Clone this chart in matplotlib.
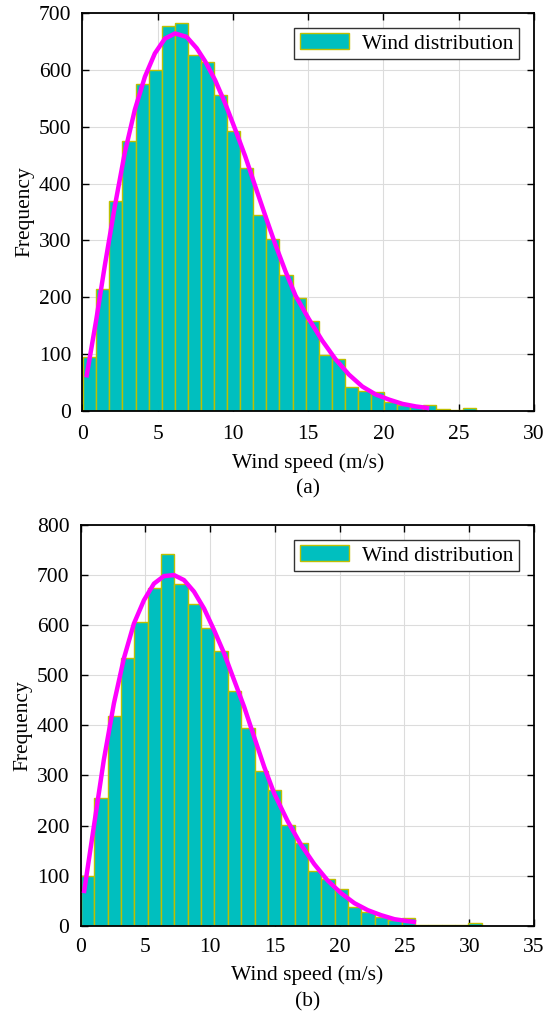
import numpy as np
import matplotlib
matplotlib.use("Agg")
import matplotlib.pyplot as plt

plt.rcParams['font.family'] = ['Liberation Serif', 'DejaVu Serif']

# ---------------- data: panel (a) ----------------
a_bin_start = 0.06
a_bin_width = 0.869
a_counts = [95, 215, 369, 475, 575, 600, 678, 682, 626, 614,
            555, 492, 427, 344, 303, 240, 199, 158, 98, 91,
            42, 36, 33, 16, 11, 8, 10, 3, 1, 5]
a_fit_x = [0.27, 0.93, 1.49, 2.16, 2.82, 3.49, 4.16, 4.82, 5.49, 6.16,
           6.93, 7.6, 8.16, 8.82, 9.49, 10.16, 10.82, 11.49, 12.16, 12.82,
           13.49, 14.16, 15.04, 15.93, 16.82, 17.71, 18.6, 19.49, 20.38, 21.27,
           22.16, 23.04]
a_fit_y = [59, 161, 255, 360, 454, 530, 588, 629, 655, 664,
           658, 638, 615, 582, 541, 495, 448, 395, 343, 293,
           246, 203, 162, 124, 91, 64, 43, 29, 20, 12.5,
           8, 5]
a_xticks = [0, 5, 10, 15, 20, 25, 30]
a_yticks = [0, 100, 200, 300, 400, 500, 600, 700]

# ---------------- data: panel (b) ----------------
b_bin_start = 0.03
b_bin_width = 1.031
b_counts = [100, 255, 419, 534, 607, 674, 743, 683, 643, 595,
            548, 469, 395, 309, 271, 202, 166, 109, 93, 74,
            38, 27, 18, 11, 15, 2, 1.3, 0.5, 1.5, 5]
b_fit_x = [0.26, 1.03, 1.8, 2.58, 3.35, 4.12, 4.9, 5.67, 6.44, 7.22,
           7.99, 8.76, 9.54, 10.31, 11.08, 11.86, 12.63, 13.4, 14.18, 14.95,
           15.98, 17.01, 18.04, 19.08, 20.11, 21.14, 22.17, 23.2, 24.23, 25.27,
           25.9]
b_fit_y = [65, 198, 331, 444, 534, 603, 650, 683, 698, 700,
           690, 667, 633, 590, 544, 490, 437, 377, 317, 264,
           209, 162, 123, 90, 65, 45, 31, 21, 13, 9,
           7]
b_xticks = [0, 5, 10, 15, 20, 25, 30, 35]
b_yticks = [0, 100, 200, 300, 400, 500, 600, 700, 800]

legend_label = "Wind distribution"
xlabel = "Wind speed (m/s)"
ylabel = "Frequency"

FACE = '#00BFBF'
EDGE = '#BFBF00'
FIT = '#FF00FF'
FS = 15.5

fig = plt.figure(figsize=(5.45, 10.16), dpi=100)


def panel(rect, start, width, counts, fx, fy, xticks, yticks, caption, cap_y,
          xpad, lpad):
    ax = fig.add_axes(rect)
    counts = np.asarray(counts, dtype=float)
    edges = start + width * np.arange(len(counts) + 1)
    ax.bar(edges[:-1], counts, width=width, align='edge', color=FACE,
           edgecolor=EDGE, linewidth=1.0, label=legend_label, zorder=2)
    ax.plot(fx, fy, color=FIT, linewidth=3.2, solid_capstyle='butt', zorder=3)
    ax.set_xlim(xticks[0], xticks[-1])
    ax.set_ylim(yticks[0], yticks[-1])
    ax.set_xticks(xticks)
    ax.set_yticks(yticks)
    ax.grid(True, color='#DCDCDC', linewidth=0.8, zorder=0)
    ax.set_axisbelow(True)
    ax.tick_params(direction='in', top=True, right=True, length=5, width=1,
                   labelsize=FS)
    ax.tick_params(axis='x', pad=xpad)
    ax.tick_params(axis='y', pad=8)
    for s in ax.spines.values():
        s.set_linewidth(1.3)
        s.set_color('black')
    ax.set_xlabel(xlabel, fontsize=FS, labelpad=lpad)
    ax.set_ylabel(ylabel, fontsize=FS, labelpad=3)
    leg = ax.legend(loc='upper right', fontsize=FS, fancybox=False,
                    framealpha=1, edgecolor='#333333', handlelength=2.3,
                    handleheight=0.75, borderpad=0.25, handletextpad=0.6,
                    borderaxespad=0.7)
    leg.get_frame().set_linewidth(1.0)
    fig.text(rect[0] + rect[2] / 2, cap_y, caption, ha='center', va='center',
             fontsize=FS)
    return ax


panel([82.3 / 545, 1 - 411 / 1016, 451.7 / 545, 398 / 1016],
      a_bin_start, a_bin_width, a_counts, a_fit_x, a_fit_y,
      a_xticks, a_yticks, "(a)", 1 - 489 / 1016, 10, 6.5)
panel([80.5 / 545, 1 - 925.7 / 1016, 453.5 / 545, 400.7 / 1016],
      b_bin_start, b_bin_width, b_counts, b_fit_x, b_fit_y,
      b_xticks, b_yticks, "(b)", 1 - 1002 / 1016, 9, 5.5)

fig.savefig("out.png", dpi=100)
